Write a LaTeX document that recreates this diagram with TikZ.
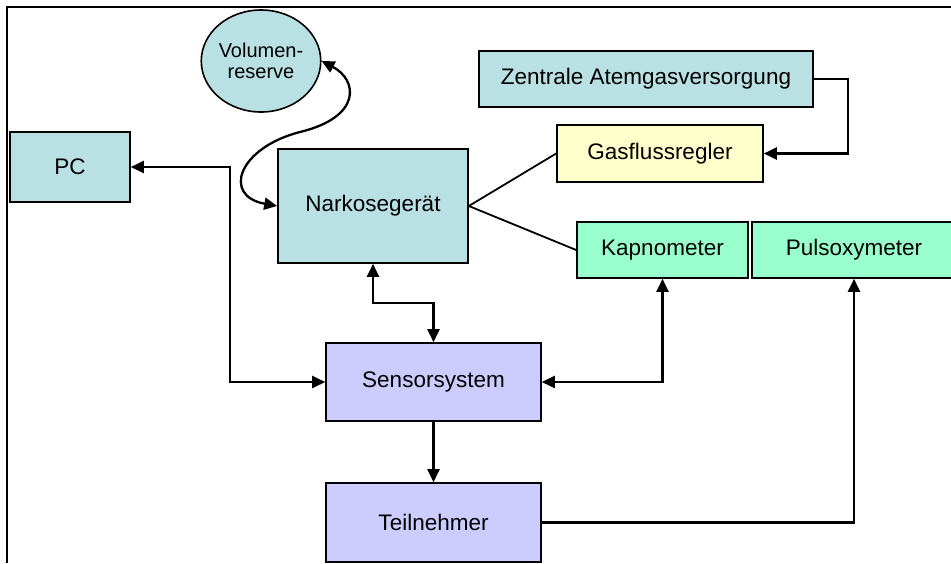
\documentclass[tikz,border=0pt]{standalone}
\usepackage{fontspec}
\setmainfont{Liberation Sans}
\usepackage{xcolor}
\usepackage{tikz}
\usetikzlibrary{shapes,arrows,arrows.meta,positioning}

\definecolor{boxcyan}{RGB}{185,224,226}
\definecolor{boxyellow}{RGB}{255,255,204}
\definecolor{boxgreen}{RGB}{153,255,204}
\definecolor{boxlilac}{RGB}{204,204,255}

\begin{document}
\begin{tikzpicture}[
    x=1pt, y=-1pt,
    device/.style={rectangle, draw=black, line width=1.6pt, fill=boxcyan, font=\fontsize{22.5}{26}\selectfont, inner sep=0pt},
    regler/.style={device, fill=boxyellow},
    monitor/.style={device, fill=boxgreen},
    sensorbox/.style={device, fill=boxlilac},
    reserve/.style={ellipse, draw=black, line width=1.6pt, fill=boxcyan, align=center, font=\fontsize{20}{21}\selectfont, inner sep=0pt},
    arrow/.style={line width=2.3pt, >={Triangle[length=13pt,width=12pt]}},
    gasline/.style={line width=1.8pt}
]
\clip (0,0) rectangle (951,563);

% Frame
\draw[line width=2.5pt] (951,7) -- (7,7) -- (7,563);

% Gas supply
\node[reserve, minimum width=110, minimum height=102] (volumen) at (261,61) {Volumen-\\reserve};
\node[device, minimum width=334, minimum height=56] (zentrale) at (646,79) {Zentrale Atemgasversorgung};
\node[regler, minimum width=206, minimum height=57] (gasfluss) at (660,153.5) {Gasflussregler};

% Devices
\node[device, minimum width=120, minimum height=70] (pc) at (70,167) {PC};
\node[device, minimum width=190, minimum height=114] (narkose) at (373,206) {Narkosegerät};
\node[monitor, minimum width=171, minimum height=56] (kapno) at (662.5,250) {Kapnometer};
\node[monitor, minimum width=204, minimum height=56] (pulsoxy) at (854,250) {Pulsoxymeter};

% Sensors and subject
\node[sensorbox, minimum width=215, minimum height=78] (sensor) at (433.5,382) {Sensorsystem};
\node[sensorbox, minimum width=215, minimum height=79] (teilnehmer) at (433.5,522.5) {Teilnehmer};

% Gas flows
\draw[arrow, <->] (volumen.east) .. controls (358,80) and (362,117) .. (300,132)
    .. controls (238,148) and (222,196) .. (narkose.west);
\draw[gasline] (narkose.east) -- (gasfluss.west);
\draw[gasline] (narkose.east) -- (kapno.west);
\draw[arrow, ->] (zentrale.east) -- ++(34,0) |- (gasfluss.east);

% Data flows
\draw[arrow, <->] (pc.east) -- ++(99,0) |- (sensor.west);
\draw[arrow, <->] (narkose.south) -- ++(0,39) -| (sensor.north);
\draw[arrow, <->] (sensor.east) -| (kapno.south);
\draw[arrow, ->] (sensor.south) -- (teilnehmer.north);
\draw[arrow, ->] (teilnehmer.east) -| (pulsoxy.south);

\end{tikzpicture}
\end{document}
